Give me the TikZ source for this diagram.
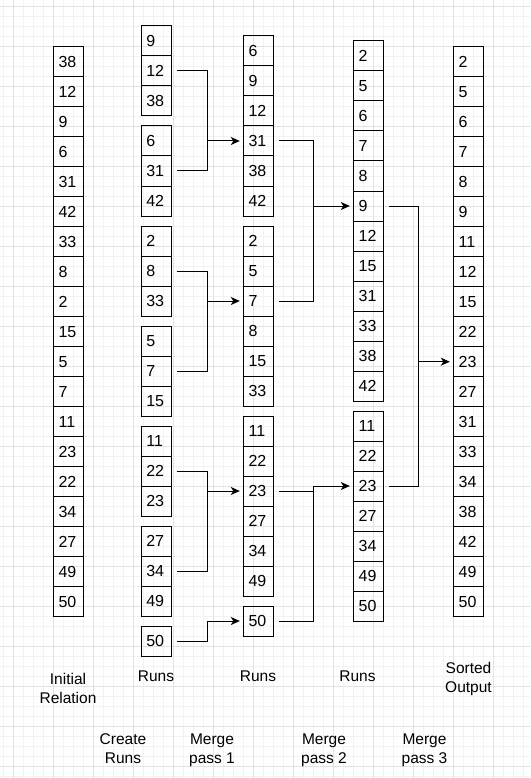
\documentclass[tikz,border=0pt]{standalone}
\usepackage{fontspec}
\setmainfont{Liberation Sans}
\usetikzlibrary{arrows.meta}
\definecolor{gridminor}{RGB}{242,242,242}
\definecolor{gridmajor}{RGB}{226,226,226}
\newcommand\cellrun[4]{%
  \foreach \v [count=\i] in {#4} {
    \node[cell] (#1\i) at (#2, {#3+15+30*(\i-1)}) {\v};
  }}
\begin{document}
\begin{tikzpicture}[x=1pt,y=-1pt,
  cell/.style={draw=black, line width=1pt, minimum width=30pt, minimum height=30pt,
    inner xsep=5.3pt, inner ysep=0pt, text width=19.4pt, align=left,
    font=\fontsize{16}{19}\selectfont},
  conn/.style={draw=black, line width=1pt},
  arr/.style={conn, -{Stealth[length=9pt,width=8pt,inset=2.5pt]}},
  lbl/.style={align=center, inner sep=0pt, font=\fontsize{15.5}{19}\selectfont},
  minorline/.style={draw=gridminor, line width=1pt},
  majorline/.style={draw=gridmajor, line width=1pt}]
\useasboundingbox (0,0) rectangle (530,778);
\fill[white] (0,0) rectangle (530,778);
% grid
\foreach \k in {0,...,52} \draw[minorline] ({3.3+10*\k},0) -- ({3.3+10*\k},778);
\foreach \k in {0,...,77} \draw[minorline] (0,{6.7+10*\k}) -- (530,{6.7+10*\k});
\foreach \k in {0,...,12} \draw[majorline] ({13.3+40*\k},0) -- ({13.3+40*\k},778);
\foreach \k in {0,...,19} \draw[majorline] (0,{6.7+40*\k}) -- (530,{6.7+40*\k});

% column 1: initial relation
\cellrun{i}{68.3}{46.7}{38,12,9,6,31,42,33,8,2,15,5,7,11,23,22,34,27,49,50}
% column 2: runs
\cellrun{ra}{156}{26}{9,12,38}
\cellrun{rb}{156}{126}{6,31,42}
\cellrun{rc}{156}{226}{2,8,33}
\cellrun{rd}{156}{326}{5,7,15}
\cellrun{re}{156}{426}{11,22,23}
\cellrun{rf}{156}{526}{27,34,49}
\cellrun{rg}{156}{626}{50}
% column 3: runs after merge pass 1
\cellrun{ma}{258.3}{36}{6,9,12,31,38,42}
\cellrun{mb}{258.3}{226}{2,5,7,8,15,33}
\cellrun{mc}{258.3}{416}{11,22,23,27,34,49}
\cellrun{md}{258.3}{606}{50}
% column 4: runs after merge pass 2
\cellrun{na}{368.3}{41}{2,5,6,7,8,9,12,15,31,33,38,42}
\cellrun{nb}{368.3}{411}{11,22,23,27,34,49,50}
% column 5: sorted output
\cellrun{o}{468.3}{46.7}{2,5,6,7,8,9,11,12,15,22,23,27,31,33,34,38,42,49,50}

% merge pass 1
\coordinate (j1) at ([xshift=36pt]ra2.east |- ma4.west);
\draw[conn] ([xshift=5pt]ra2.east) -| (j1) |- ([xshift=5pt]rb2.east);
\draw[arr] (j1) -- ([xshift=-3pt]ma4.west);
\coordinate (j2) at ([xshift=36pt]rc2.east |- mb3.west);
\draw[conn] ([xshift=5pt]rc2.east) -| (j2) |- ([xshift=5pt]rd2.east);
\draw[arr] (j2) -- ([xshift=-3pt]mb3.west);
\coordinate (j3) at ([xshift=36pt]re2.east |- mc3.west);
\draw[conn] ([xshift=5pt]re2.east) -| (j3) |- ([xshift=5pt]rf2.east);
\draw[arr] (j3) -- ([xshift=-3pt]mc3.west);
\coordinate (j4) at ([xshift=36pt]rg1.east |- md1.west);
\draw[arr] ([xshift=5pt]rg1.east) -| (j4) -- ([xshift=-3pt]md1.west);

% merge pass 2
\coordinate (j5) at ([xshift=40pt]ma4.east |- na6.west);
\draw[conn] ([xshift=5pt]ma4.east) -| (j5) |- ([xshift=5pt]mb3.east);
\draw[arr] (j5) -- ([xshift=-3pt]na6.west);
\coordinate (j6) at ([xshift=40pt]mc3.east |- nb3.west);
\draw[conn] ([xshift=5pt]mc3.east) -| (j6) |- ([xshift=5pt]md1.east);
\draw[arr] (j6) -- ([xshift=-3pt]nb3.west);

% merge pass 3
\coordinate (j7) at ([xshift=35pt]na6.east |- o11.west);
\draw[conn] ([xshift=5pt]na6.east) -| (j7) |- ([xshift=5pt]nb3.east);
\draw[arr] (j7) -- ([xshift=-3pt]o11.west);

% labels (anchor=base is the baseline of the last line)
\node[lbl, anchor=base] (l1) at (68,703) {Initial\\Relation};
\node[lbl, anchor=base] (l2) at (156,681.5) {Runs};
\node[lbl, anchor=base] (l3) at (258,681.5) {Runs};
\node[lbl, anchor=base] (l4) at (357.5,681.5) {Runs};
\node[lbl, anchor=base] (l5) at (468.5,692) {Sorted\\Output};
\node[lbl, anchor=base] (l6) at (123,763) {Create\\Runs};
\node[lbl, anchor=base] (l7) at (212,763) {Merge\\pass 1};
\node[lbl, anchor=base] (l8) at (324,763) {Merge\\pass 2};
\node[lbl, anchor=base] (l9) at (424.5,763) {Merge\\pass 3};
\end{tikzpicture}
\end{document}
